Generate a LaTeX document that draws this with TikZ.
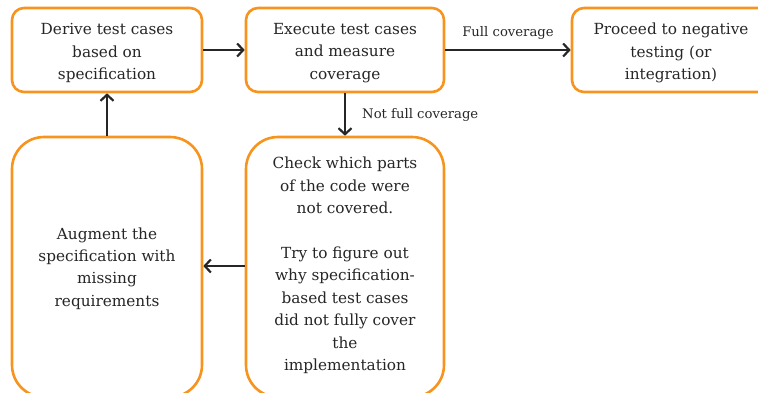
\documentclass[tikz,border=0pt]{standalone}
\usepackage{fontspec}
\setmainfont{DejaVu Serif}
\usetikzlibrary{arrows.meta}
\definecolor{boxorange}{HTML}{F7941D}
\definecolor{ink}{HTML}{262626}
\tikzset{
  procbox/.style={draw=boxorange, line width=2.6pt, rounded corners=12pt, fill=white, inner sep=0pt},
  bigbox/.style={procbox, rounded corners=32pt},
  boxtext/.style={text=ink, align=center, font=\fontsize{15.3}{22.4}\selectfont, inner sep=0pt},
  flow/.style={draw=ink, line width=2.4pt, -{Straight Barb[length=6pt,width=13pt,line width=2.2pt]}},
  lbl/.style={text=ink, font=\fontsize{13.2}{15}\selectfont, inner sep=0pt}
}
\begin{document}
\begin{tikzpicture}[x=1pt,y=-1pt]
\useasboundingbox (0,0) rectangle (758,392);
\clip (0,0) rectangle (758,392);
\node[procbox, minimum width=190pt, minimum height=84pt] (derive) at (107,50) {};
\node[boxtext] (tderive) at (107,53) {Derive test cases\\based on\\specification};
\node[procbox, minimum width=198pt, minimum height=84pt] (exec) at (345,50) {};
\node[boxtext] (texec) at (345,53) {Execute test cases\\and measure\\coverage};
\node[procbox, minimum width=200pt, minimum height=84pt] (proceed) at (672,50) {};
\node[boxtext] (tproceed) at (671,53) {Proceed to negative\\testing (or\\integration)};
\node[bigbox, minimum width=190pt, minimum height=260pt] (augment) at (107,267) {};
\node[boxtext] (taugment) at (107,268.5) {Augment the\\specification with\\missing\\requirements};
\node[bigbox, minimum width=198pt, minimum height=260pt] (check) at (345,267) {};
\node[boxtext] (tcheck) at (345,265.5) {Check which parts\\of the code were\\not covered.\\[22.4pt]Try to figure out\\why specification-\\based test cases\\did not fully cover\\the\\implementation};
\draw[flow] (derive.east) -- (exec.west);
\draw[flow] (exec.east) -- node[lbl, above=9pt] (full) {Full coverage} (proceed.west);
\draw[flow] (exec.south) -- (check.north);
\node[lbl, anchor=west] (notfull) at (362,115) {Not full coverage};
\draw[flow] (check.west |- 0,266) -- (augment.east |- 0,266);
\draw[flow] (augment.north) -- (derive.south);
\end{tikzpicture}
\end{document}
